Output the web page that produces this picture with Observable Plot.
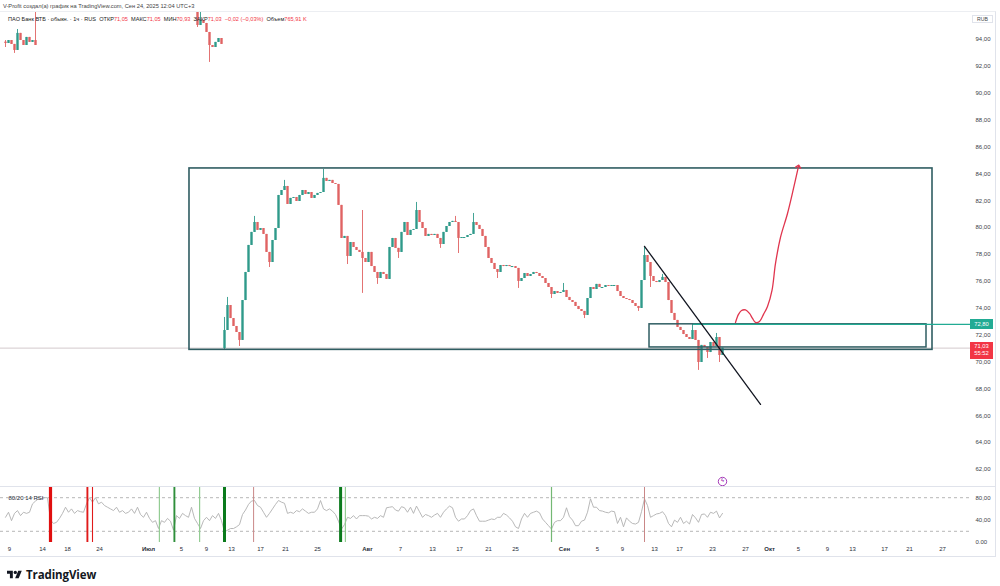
<!DOCTYPE html>
<html lang="ru"><head><meta charset="utf-8">
<script src="https://cdn.jsdelivr.net/npm/d3@7"></script>
<script src="https://cdn.jsdelivr.net/npm/@observablehq/plot@0.6"></script>
<style>
html,body{margin:0;padding:0;background:#fff;}
#wrap{position:relative;width:1000px;height:586px;overflow:hidden;font-family:"Liberation Sans",Arial,sans-serif;color:#131722;}
.abs{position:absolute;white-space:nowrap;}
#price{position:absolute;left:0;top:0;}
#rsi{position:absolute;left:0;top:486px;}
.r{color:#f23645;}
</style></head><body>
<div id="wrap">
  <div id="price"></div>
  <div id="rsi"></div>
  <div class="abs" style="left:0;top:11px;width:996px;height:546px;border-top:1px solid #eceef2;border-right:1px solid #e0e3eb;border-bottom:1px solid #e0e3eb;box-sizing:border-box;"></div>
  <div class="abs" style="left:0;top:486px;width:996px;height:0;border-top:1px solid #e0e3eb;"></div>
  <div class="abs" id="hdr" style="left:3px;top:3px;font-size:5.7px;color:#444;"></div>
  <div class="abs" id="legend" style="left:8px;top:16px;font-size:5.6px;color:#222;"></div>
  <div class="abs" id="unit" style="left:972px;top:15px;width:21px;height:8px;border:1px solid #e0e3eb;box-sizing:border-box;font-size:5.2px;line-height:7px;text-align:center;color:#444;background:#fff;"></div>
  <div class="abs" id="lvlTag" style="left:970px;width:23px;height:10px;background:#22ab94;color:#fff;font-size:5.8px;line-height:10px;text-align:center;"></div>
  <div class="abs" id="lastTag" style="left:970px;width:23px;height:17px;background:#f23645;color:#fff;font-size:5.8px;line-height:7.5px;text-align:center;padding-top:1px;box-sizing:border-box;"></div>
  <div class="abs" style="left:7px;top:567px;display:flex;align-items:center;gap:4px;">
    <svg width="15" height="11" viewBox="0 0 36 26"><path d="M14 22H7V11H0V4h14z" fill="#131722"/><circle cx="20" cy="8" r="4" fill="#131722"/><path d="M28 22h-8.5l7.5-18h8.5z" fill="#131722"/></svg>
    <span style="font-family:'Open Sans','Liberation Sans',Arial,sans-serif;font-weight:700;font-size:11.5px;color:#131722;letter-spacing:-0.1px;">TradingView</span>
  </div>
</div>
<script>
// ---------------- DATA ----------------
// Price series aggregated into coarse bars (index = bar number on the time axis).
// null = price above the visible range (before the dividend gap).
const closes = [
  93.70, 93.92, 93.63, 93.18, 94.45, 93.92, 93.55, 94.15, 93.78, 93.92, 93.55,
  null,null,null,null,null,null,null,null,null,null,null,null,null,null,null,null,null,null,null,null,
  null,null,null,null,null,null,null,null,null,null,null,null,null,null,null,null,null,null,null,null,
  null,null,null,null,null,null,null,null,null,null,null,null,null,
  95.04, 95.41, 95.19, 94.52, 93.55, 93.40, 93.78, 94.07, 93.63,
  72.34, 74.20, 73.23, 72.64, 72.19, 71.60, 74.57, 76.66, 78.67, 79.64,
  80.38, 79.79, 79.93, 79.49, 78.15, 77.40, 79.04, 79.93, 82.39, 82.76,
  83.06, 81.72, 82.17, 82.24, 81.94, 82.39, 82.76, 82.46, 82.61, 82.17,
  82.39, 82.54, 82.61, 83.66, 83.43, 83.51, 83.28, 83.21, 81.65, 79.19,
  79.34, 77.85, 78.89, 78.52, 78.30, 78.15, 77.70, 77.40, 78.15, 77.10,
  76.66, 76.21, 76.66, 76.51, 76.14, 78.52, 79.19, 78.45, 78.15, 79.64,
  80.38, 79.41, 79.79, 79.86, 81.27, 80.38, 79.93, 79.34, 79.49, 79.41,
  79.49, 79.19, 78.74, 79.64, 80.08, 80.38, 80.46, 80.38, 79.19, 79.26,
  79.26, 79.41, 79.49, 80.38, 80.16, 79.86, 79.34, 78.52, 77.70, 77.33,
  76.88, 76.66, 77.18, 77.10, 77.18, 77.10, 77.10, 76.96, 75.99, 76.21,
  76.58, 76.36, 76.51, 76.66, 76.58, 76.36, 76.21, 75.84, 75.54, 75.02,
  75.24, 75.10, 75.17, 75.32, 74.80, 74.57, 74.43, 74.13, 73.90, 73.76,
  73.46, 74.72, 75.54, 75.39, 75.77, 75.54, 75.54, 75.69, 75.62, 75.69,
  75.69, 75.24, 74.87, 74.72, 74.65, 74.57, 74.35, 74.13, 73.98, 76.06,
  77.92, 77.40, 76.36, 75.99, 75.91, 76.06, 76.29, 75.91, 74.57, 73.61,
  73.09, 72.57, 72.34, 72.04, 71.82, 71.67, 72.34, 71.60, 69.96, 71.23,
  71.08, 70.70, 71.45, 71.15, 71.82, 70.48, 71.03
];
// opens that do not equal the previous close: [bar, open]
const openOverrides = [[0, 93.80], [64, 96.30], [73, 70.99]];
// wick extremes beyond the body: [bar, price]
const highs = [[0,93.92],[4,94.74],[10,96.5],[64,96.5],[65,96.01],[73,73.31],[74,74.80],[83,80.83],[93,83.51],
  [106,84.33],[119,81.27],[137,81.87],[150,80.83],[156,81.05],[186,75.84],[213,78.52],[219,76.51],[229,72.80],[237,72.12]];
const lows = [[0,93.40],[3,92.96],[64,94.89],[68,92.29],[73,70.85],[78,71.15],[88,77.03],[114,77.25],[119,75.10],
  [124,75.77],[131,77.70],[145,78.45],[151,78.07],[164,76.21],[171,75.47],[182,74.72],[193,73.23],[211,73.76],
  [215,75.54],[231,69.37],[234,70.26],[238,69.96]];

// RSI(14) per bar
const rsi = [
  45,54,39,52,57,48,54,52,54,69, 74,78,78,80,80,40,34,36,43,52,
  63,54,60,52,57,55,54,69,80,72, 80,69,72,66,63,60,57,63,54,57,
  52,54,60,52,63,50,45,54,43,36, 39,25,39,36,43,38,22,48,43,52,
  48,45,63,43,34,25,39,45,39,48, 43,52,39,19,22,25,25,28,32,50,
  58,68,74,75,66,63,54,45,52,60, 68,75,72,70,52,54,52,57,55,60,
  56,52,54,54,60,75,60,57,60,56, 50,38,24,32,45,43,48,42,48,48,
  48,47,42,45,43,48,45,62,63,64, 58,56,64,62,54,63,52,65,55,45,
  50,48,45,49,52,45,54,60,65,62, 45,38,42,42,48,57,60,48,38,38,
  38,40,42,41,45,45,52,49,44,38, 28,25,42,52,45,52,54,56,53,42,
  36,30,24,36,39,39,45,62,46,40, 30,30,38,40,54,78,63,63,57,56,
  54,53,56,55,34,45,28,44,38,34, 33,36,55,78,66,45,48,51,52,55,
  48,34,28,40,36,45,34,38,33,50, 44,36,50,51,45,54,52,56,44,52
];
const rsiBands = [80, 20];
const rsiTicks = [80, 40, 0];
const rsiTickLabels = ["80,00", "40,00", "0.00"];
// RSI 80/20 signal bars: bar index and kind
const signalBars = [15, 27.3, 29, 51.3, 56.3, 64.7, 73, 82.7, 111.7, 113.3, 182, 213];
const signalKinds = ["sellStrong","sell","sellThin","buyWeak","buy","buyWeak","buyStrong","sellWeak","buyStrong","buyWeak","buyMid","sellWeak"];

// time axis ticks (bar index of the date) and labels
const tickBars = [1.33,12.33,20.67,31.33,47.67,58.67,67,75.33,85,93.33,104,120.67,131.67,142.33,151.33,161,170,
  186.33,197.33,205.67,216.33,224.67,235.67,246.67,254.67,264.33,274,282.33,293,301.33,312.33];
const tickLabels = ["9","14","18","24","Июл","5","9","13","17","21","25","Авг","7","13","17","21","25",
  "Сен","5","9","13","17","23","27","Окт","5","9","13","17","21","27"];
const priceTicks = [62,64,66,68,70,72,74,76,78,80,82,84,86,88,90,92,94];

// drawings (bar, price)
const rangeBox = {x1: 61.33, x2: 309, y1: 70.90, y2: 84.40};
const zoneBox = {x1: 214.67, x2: 307, y1: 71.08, y2: 72.80};
const levelLine = {from: 229.33, price: 72.80};
const trendLine = [{i: 213, p: 78.60}, {i: 251.67, p: 66.84}];
const pathBars   = [243.33, 244.33, 245.33, 246.67, 248, 249, 250, 251.33, 252.67, 254, 255.5, 256.67, 258.33, 260.67, 262.67, 264.33];
const pathPrices = [72.94, 73.54, 73.83, 73.87, 73.61, 73.24, 72.94, 73.01, 73.54, 74.13, 75.32, 77.33, 79.27, 81.05, 82.91, 84.55];
const eventBar = 239;

const lastClose = 71.03;
const countdown = "55:52";
const headerText = "V-Profit создал(а) график на TradingView.com, Сен 24, 2025 12:04 UTC+3";
const symbolText = "ПАО Банк ВТБ · обыкн. · 1ч · RUS";
const legendKeys = ["ОТКР", "МАКС", "МИН", "ЗАКР"];
const legendVals = ["71,05", "71,05", "70,93", "71,03"];
const legendChange = "−0,02 (−0,03%)";
const volumeKey = "Объем", volumeVal = "765,91 K";
const currency = "RUB";

// ---------------- BUILD ----------------
const xDomain = [-5/3, 965/3];
const priceDomain = [60.88, 96.08];
const UP = "#2f9a8a", DOWN = "#e06363", BOX = "#2f5d62";
const fmt = d => d.toFixed(2).replace(".", ",");

const bars = [];
closes.forEach((c, i) => {
  if (c == null) return;
  const ov = openOverrides.find(d => d[0] === i);
  const o = ov ? ov[1] : closes[i - 1];
  const h = highs.find(d => d[0] === i);
  const l = lows.find(d => d[0] === i);
  bars.push({i, o, c, hi: h ? h[1] : Math.max(o, c), lo: l ? l[1] : Math.min(o, c), up: c >= o});
});
const dojis = bars.filter(b => Math.abs(b.c - b.o) < 0.02);
const pathPts = pathBars.map((b, k) => ({i: b, p: pathPrices[k]}));
const baseStyle = {fontFamily: "Liberation Sans, Arial, sans-serif", fontSize: "6px", color: "#3b3e47", background: "transparent", overflow: "visible"};
const colorOf = d => d.up ? UP : DOWN;

const pricePlot = Plot.plot({
  width: 1000, height: 486, marginLeft: 0, marginRight: 30, marginTop: 11, marginBottom: 2,
  x: {domain: xDomain, axis: null},
  y: {domain: priceDomain, axis: null},
  style: baseStyle,
  marks: [
    Plot.ruleY([lastClose], {stroke: "#d3cacc", strokeWidth: 1}),
    Plot.ruleX(bars, {x: "i", y1: "lo", y2: "hi", stroke: colorOf, strokeWidth: 0.9, clip: true}),
    Plot.ruleX(bars, {x: "i", y1: "o", y2: "c", stroke: colorOf, strokeWidth: 2.4, clip: true}),
    Plot.ruleY(dojis, {y: "c", x1: d => d.i - 0.45, x2: d => d.i + 0.45, stroke: colorOf, strokeWidth: 1, clip: true}),
    Plot.rect([rangeBox], {x1: "x1", x2: "x2", y1: "y1", y2: "y2", fill: "none", stroke: BOX, strokeWidth: 1.6}),
    Plot.rect([zoneBox], {x1: "x1", x2: "x2", y1: "y1", y2: "y2", fill: "none", stroke: BOX, strokeWidth: 1.5}),
    Plot.ruleY([levelLine], {y: "price", x1: "from", x2: () => xDomain[1], stroke: "#22ab94", strokeWidth: 1.3}),
    Plot.line(trendLine, {x: "i", y: "p", stroke: "#131722", strokeWidth: 1.3}),
    Plot.line(pathPts, {x: "i", y: "p", stroke: "#e0354e", strokeWidth: 1.3, curve: "catmull-rom", markerEnd: "arrow"}),
    Plot.dot([eventBar], {x: d => d, frameAnchor: "bottom", dy: -3, r: 4.2, stroke: "#9c27b0", strokeWidth: 0.9, fill: "white"}),
    Plot.text([eventBar], {x: d => d, frameAnchor: "bottom", dy: -3, text: () => "ϟ", fill: "#9c27b0", fontSize: 6, fontWeight: "bold"}),
    Plot.axisY(priceTicks, {anchor: "right", tickSize: 0, tickPadding: 5, tickFormat: fmt, label: null})
  ]
});
document.getElementById("price").append(pricePlot);

const sigStyle = {
  sellStrong: ["#e00f0f", 3.2], sell: ["#e01a1a", 1.9], sellThin: ["#e01a1a", 1.1], sellWeak: ["#c98787", 1],
  buyStrong: ["#0b7a1c", 3], buy: ["#2f8f3b", 1.9], buyMid: ["#74b874", 1.2], buyWeak: ["#93cc93", 1.2]
};
const signals = signalBars.map((b, k) => ({i: b, kind: signalKinds[k]}));
const tickData = tickBars.map((b, k) => ({i: b, label: tickLabels[k], month: /[^0-9]/.test(tickLabels[k])}));

const rsiPlot = Plot.plot({
  width: 1000, height: 72, marginLeft: 0, marginRight: 30, marginTop: 0, marginBottom: 16,
  x: {domain: xDomain, axis: null},
  y: {domain: [0, 100], axis: null},
  style: baseStyle,
  marks: [
    Plot.ruleY(rsiBands, {stroke: "#a3a3a3", strokeDasharray: "3,3", strokeWidth: 0.8}),
    Plot.line(rsi, {x: (d, i) => i, y: d => d, stroke: "#b0b0b0", strokeWidth: 0.9}),
    ...Object.entries(sigStyle).map(([kind, [col, w]]) =>
      Plot.ruleX(signals.filter(s => s.kind === kind), {x: "i", stroke: col, strokeWidth: w})),
    Plot.axisY(rsiTicks, {anchor: "right", tickSize: 0, tickPadding: 5, tickFormat: d => rsiTickLabels[rsiTicks.indexOf(d)], label: null}),
    Plot.text(tickData.filter(d => !d.month), {x: "i", text: "label", frameAnchor: "bottom", dy: 8, fill: "#2a2e39"}),
    Plot.text(tickData.filter(d => d.month), {x: "i", text: "label", frameAnchor: "bottom", dy: 8, fill: "#2a2e39", fontWeight: "bold"}),
    Plot.text(["80/20 14 RSI"], {frameAnchor: "top-left", dx: 8, dy: 9, textAnchor: "start", fill: "#2a2e39"})
  ]
});
document.getElementById("rsi").append(rsiPlot);

// overlays
document.getElementById("hdr").textContent = headerText;
const leg = document.getElementById("legend");
let html = symbolText + "&nbsp;&nbsp;";
legendKeys.forEach((k, j) => { html += k + '<span class="r">' + legendVals[j] + "</span>&nbsp;&nbsp;"; });
html += '<span class="r">' + legendChange + "</span>&nbsp;&nbsp;" + volumeKey + '<span class="r">' + volumeVal + "</span>";
leg.innerHTML = html;
document.getElementById("unit").textContent = currency;
const ys = pricePlot.scale("y");
const lvl = document.getElementById("lvlTag");
lvl.textContent = fmt(levelLine.price);
lvl.style.top = (ys.apply(levelLine.price) - 5) + "px";
const lt = document.getElementById("lastTag");
lt.innerHTML = fmt(lastClose) + "<br>" + countdown;
lt.style.top = (ys.apply(lastClose) - 6) + "px";
</script>
</body></html>
